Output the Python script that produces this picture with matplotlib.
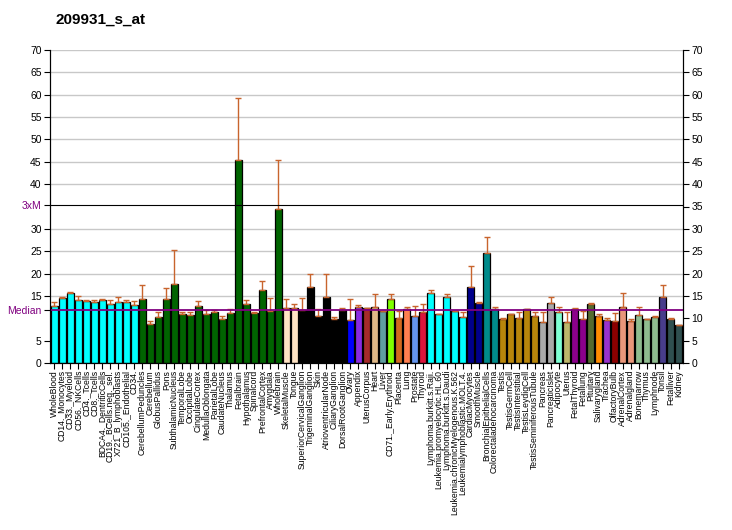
import matplotlib
matplotlib.use("Agg")
import matplotlib.pyplot as plt
import numpy as np

plt.rcParams['font.family'] = ['Liberation Sans', 'DejaVu Sans']

title = "209931_s_at"

labels = [
    "WholeBlood", "CD14._Monocytes", "CD33._Myeloid", "CD56._NKCells", "CD4._Tcells",
    "CD8._Tcells", "BDCA4._DentriticCells", "CD19._BCells.neg._sel.", "X721_B_lymphoblasts",
    "CD105._Endothelial", "CD34.", "CerebellumPeduncles", "Cerebellum", "GlobusPallidus",
    "Pons", "SubthalamicNucleus", "TemporalLobe", "OccipitalLobe", "CingulateCortex",
    "MedullaOblongata", "ParietalLobe", "CaudateNucleus", "Thalamus", "Fetalbrain",
    "Hypothalamus", "Spinalcord", "PrefrontalCortex", "Amygdala", "Wholebrain",
    "SkeletalMuscle", "Tongue", "SuperiorCervicalGanglion", "TrigeminalGanglion", "Skin",
    "AtrioventricularNode", "CiliaryGanglion", "DorsalRootGanglion", "Ovary", "Appendix",
    "UterusCorpus", "Heart", "Liver", "CD71._Early.Erythroid", "Placenta", "Lung",
    "Prostate", "Thyroid", "Lymphoma.burkitt.s.Raji.", "Leukemia.promyelocytic.HL.60",
    "Lymphoma.burkitt.s.Daudi", "Leukemia.chronicMyelogenous.K.562",
    "Leukemialymphoblastic.MOLT.4.", "CardiacMyocytes", "SmoothMuscle",
    "BronchialEpithelialCells", "Colorectaladenocarcinoma", "Testis", "TestisGermCell",
    "TestisInterstitial", "TestisLeydigCell", "TestisSeminiferousTubule", "Pancreas",
    "PancreaticIslet", "Adipocyte", "Uterus", "FetalThyroid", "Fetallung", "Pituitary",
    "Salivarygland", "Trachea", "OlfactoryBulb", "AdrenalCortex", "Adrenalgland",
    "Bonemarrow", "Thymus", "Lymphnode", "Tonsil", "Fetalliver", "Kidney",
]

values = [
    12.8, 14.6, 15.7, 14.1, 13.9, 13.7, 14.1, 13.2, 13.7, 13.7, 13.0,
    14.3, 8.7, 10.3, 14.3, 17.7, 11.0, 10.7, 12.8, 11.0, 11.4, 9.9, 11.2, 45.3,
    13.2, 11.2, 16.3, 11.7, 34.5,
    12.3, 12.3,
    11.9, 17.0, 10.5, 14.8, 9.9, 11.8,
    9.6, 12.5, 12.3, 12.5, 11.7, 14.3, 10.1, 12.1, 10.5, 11.4,
    15.7, 11.0, 14.8, 11.6, 10.3,
    17.0, 13.4, 24.6, 12.1,
    9.9, 11.0, 10.1, 12.1, 10.5,
    9.2, 13.4, 11.4, 9.2, 12.1, 9.9, 13.2, 10.5, 9.6, 9.4, 12.5, 9.4,
    10.7, 9.9, 10.3, 14.8, 9.9, 8.5,
]

err_top = [
    13.7, 14.8, 15.9, 14.9, 14.1, 14.1, 14.3, 14.1, 14.8, 14.1, 13.9,
    17.5, 9.5, 11.5, 16.8, 25.3, 11.5, 11.5, 13.9, 11.9, 11.9, 10.5, 12.1, 59.3,
    14.1, 11.4, 18.4, 14.6, 45.4,
    14.3, 13.2,
    14.6, 19.9, 12.1, 19.9, 10.3, 12.3,
    14.3, 13.0, 12.3, 15.4, 11.7, 15.4, 11.6, 12.5, 12.8, 13.2,
    16.3, 11.0, 15.4, 11.6, 11.4,
    21.7, 13.7, 28.2, 12.5,
    10.1, 11.0, 11.4, 12.1, 11.4,
    11.4, 14.8, 12.5, 11.4, 12.3, 11.6, 13.4, 11.0, 10.1, 11.2, 15.7, 9.9,
    12.5, 9.9, 10.5, 17.5, 10.1, 8.5,
]

colors = (
    ["#00FFFF"] * 11 + ["#006400"] * 18 + ["#FFE4C4"] * 2 + ["#000000"] * 6 +
    ["#0000FF", "#8A2BE2", "#A52A2A", "#DEB887", "#5F9EA0", "#7FFF00", "#D2691E",
     "#FF7F50", "#6495ED", "#DC143C"] +
    ["#00FFFF"] * 5 + ["#00008B"] * 2 + ["#008B8B"] * 2 + ["#B8860B"] * 5 +
    ["#A9A9A9"] * 2 + ["#7FFFD4", "#BDB76B", "#8B008B", "#8B008B", "#556B2F",
                      "#FF8C00", "#9932CC", "#8B0000", "#E9967A", "#E9967A"] +
    ["#8FBC8F"] * 3 + ["#483D8B"] + ["#2F4F4F"] * 2
)

median = 11.8
three_m = 35.4

fig = plt.figure(figsize=(7.32, 5.30), dpi=100)
ax = fig.add_axes([50 / 732, 1 - 363 / 530, 633 / 732, 313 / 530])

x = np.arange(len(values))
for gy in [5, 15, 20, 25, 30, 40, 45, 50, 55, 60, 65, 70]:
    ax.axhline(gy, color="#C8C8C8", lw=1, zorder=0)

ax.bar(x, values, width=0.78, color=colors, edgecolor="black", linewidth=0.9, zorder=2)
yerr_up = np.array(err_top) - np.array(values)
ax.errorbar(x, values, yerr=[np.zeros(len(values)), yerr_up], fmt="none",
            ecolor="#C8642D", elinewidth=1, capsize=2.2, capthick=1, zorder=3)

ax.axhline(median, color="#800080", lw=1.3, zorder=4)
ax.axhline(three_m, color="black", lw=0.8, zorder=4)

ax.set_xlim(-0.55, len(values) - 0.45)
ax.set_ylim(0, 70)
ax.set_xticks(x)
ax.set_xticklabels(labels, rotation=90, fontsize=6.2)
ax.tick_params(axis="x", length=4, width=0.8, pad=1)

left_ticks = [0, 5, median, 15, 20, 25, 30, three_m, 40, 45, 50, 55, 60, 65, 70]
left_labels = ["0", "5", "Median", "15", "20", "25", "30", "3xM", "40", "45", "50", "55", "60", "65", "70"]
ax.set_yticks(left_ticks)
ax.set_yticklabels(left_labels, fontsize=7.5)
for t in ax.get_yticklabels():
    if t.get_text() in ("Median", "3xM"):
        t.set_color("#800080")
ax.tick_params(axis="y", length=4, width=0.8, pad=2)

ax2 = ax.twinx()
ax2.set_ylim(0, 70)
ax2.set_yticks(np.arange(0, 71, 5))
ax2.set_yticklabels([str(v) for v in range(0, 71, 5)], fontsize=7.5)
ax2.tick_params(axis="y", length=4, width=0.8, pad=2)

for a in (ax, ax2):
    a.spines["top"].set_visible(False)

fig.text(55 / 732, 1 - 20 / 530, title, fontsize=11, fontweight="bold", va="center", ha="left")

fig.savefig("out.png", dpi=100)
